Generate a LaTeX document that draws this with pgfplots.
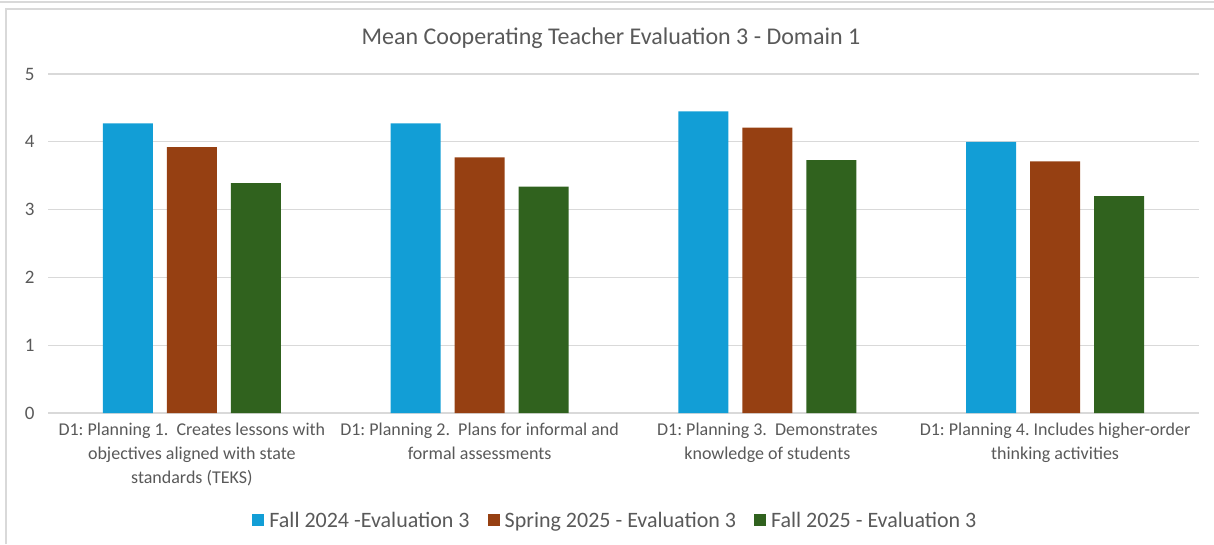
\documentclass[border=0pt]{standalone}
\usepackage{fontspec}
\setmainfont{Carlito}
\usepackage{pgfplots}
\pgfplotsset{compat=1.18}
\definecolor{cblue}{RGB}{18,158,214}
\definecolor{cbrown}{RGB}{150,64,18}
\definecolor{cgreen}{RGB}{48,98,30}
\definecolor{txtgray}{RGB}{89,89,89}
\definecolor{gridgray}{RGB}{217,217,217}
\frenchspacing
\begin{document}
\begin{tikzpicture}[x=1pt,y=1pt]
\useasboundingbox (0,0) rectangle (1214,544);
\draw[gridgray, line width=1.2pt] (0,542) -- (1214,542);
\draw[gridgray, line width=1.2pt] (6,0) -- (6,535) -- (1214,535);
\node[font=\fontsize{24}{28}\selectfont, text=txtgray] at (611,506) {Mean Cooperating Teacher Evaluation 3 - Domain 1};
\begin{axis}[
  at={(48pt,131pt)}, anchor=south west,
  scale only axis, width=1151pt, height=339pt,
  xmin=-0.5, xmax=3.5, ymin=0, ymax=5,
  ytick={0,1,2,3,4,5}, xtick={0,1,2,3},
  ybar=14pt, bar width=50pt,
  axis line style={draw=none},
  major tick length=0pt,
  ymajorgrids, major grid style={gridgray, line width=1.3pt},
  tick label style={text=txtgray},
  yticklabel style={font=\fontsize{19}{22}\selectfont, xshift=-10pt},
  /pgf/number format/assume math mode=true,
  xticklabel style={font=\fontsize{18}{24}\selectfont, align=center, anchor=north, yshift=-6pt},
  xticklabels={{D1: Planning 1.\ \ Creates lessons with\\objectives aligned with state\\standards (TEKS)},
               {D1: Planning 2.\ \ Plans for informal and\\formal assessments},
               {D1: Planning 3.\ \ Demonstrates\\knowledge of students},
               {D1: Planning 4. Includes higher-order\\thinking activities}},
  legend style={at={(0.493,-0.316)}, anchor=center, draw=none, fill=none,
    legend columns=3, font=\fontsize{22}{26}\selectfont, text=txtgray,
    /tikz/every even column/.append style={column sep=16pt}},
  legend image code/.code={\fill[#1] (0pt,-6pt) rectangle (12pt,6pt); \path (15pt,0pt);},
]
\addplot[fill=cblue, draw=none] coordinates {(0,4.27) (1,4.27) (2,4.45) (3,4.00)};
\addplot[fill=cbrown, draw=none] coordinates {(0,3.92) (1,3.77) (2,4.21) (3,3.71)};
\addplot[fill=cgreen, draw=none] coordinates {(0,3.39) (1,3.34) (2,3.73) (3,3.20)};
\legend{Fall 2024 -Evaluation 3, Spring 2025 - Evaluation 3, Fall 2025 - Evaluation 3}
\end{axis}
\end{tikzpicture}
\end{document}
